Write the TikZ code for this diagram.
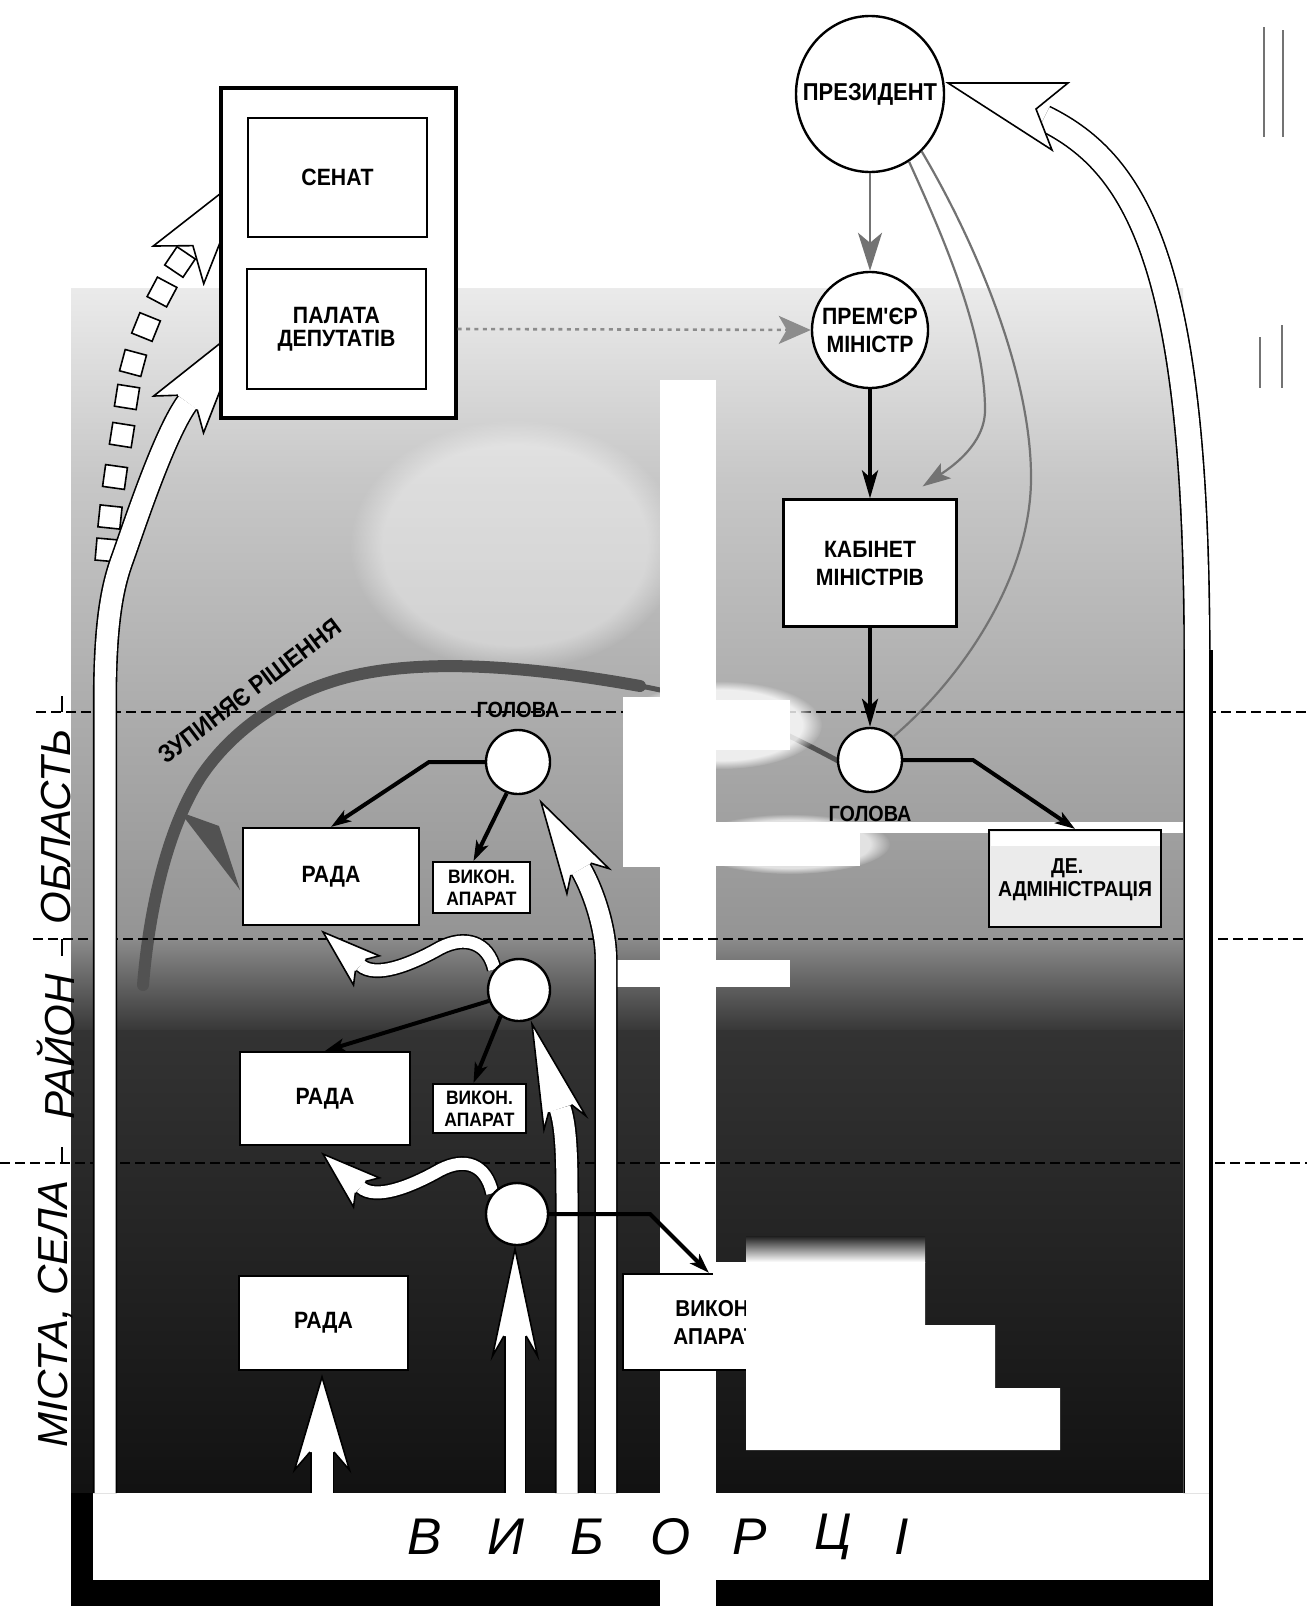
\documentclass[tikz,border=0pt]{standalone}
\usepackage{fontspec}
\setmainfont{Liberation Sans}
\newfontfamily\lbl[FakeStretch=0.9]{Liberation Sans}
\newfontfamily\lit{Liberation Sans}
\usetikzlibrary{arrows.meta,calc,shapes.geometric,fadings}
\pgfdeclarelayer{bg}
\pgfdeclarelayer{mid}
\pgfdeclarelayer{top}
\pgfsetlayers{bg,mid,main,top}
% white arrow head: tip, angle, length, half width, half shaft, notch
\newcommand\whead[6]{%
  \path[headst] ($#1+({#2+180}:{#3-#6})+({#2+90}:#5)$) -- ($#1+({#2+180}:#3)+({#2+90}:#4)$) -- #1 -- ($#1+({#2+180}:#3)+({#2-90}:#4)$) -- ($#1+({#2+180}:{#3-#6})+({#2-90}:#5)$);}
\begin{document}
\begin{tikzpicture}[x=0.5pt,y=-0.5pt,
  bfont/.style={font=\lbl\bfseries\fontsize{11.8}{14}\selectfont},
  box/.style={draw,line width=1.1pt,fill=white,inner sep=0pt,align=center,bfont},
  small/.style={font=\lbl\bfseries\fontsize{9.7}{10.8}\selectfont},
  ball/.style={circle,draw,line width=1.2pt,fill=white,inner sep=0pt},
  conn/.style={line width=2pt,-{Stealth[length=10pt,width=6.5pt,inset=2.5pt]}},
  bigconn/.style={line width=2pt,-{Stealth[length=14pt,width=8pt,inset=3.5pt]}},
  grayconn/.style={draw=black!55,line width=1.1pt},
  shaft/.style={double=white,double distance=#1,line width=0.8pt},
  headst/.style={fill=white,draw=black,line width=0.8pt,line join=miter},
  dline/.style={line width=0.7pt,dash pattern=on 5pt off 2.5pt},
  vlab/.style={font=\lit\itshape\fontsize{21}{24}\selectfont,rotate=90},
  arcst/.style={draw=black!68,line cap=round}
]
\useasboundingbox (0,0) rectangle (1307,1606);

% ---------------- nodes (main layer) ----------------
\node[box,line width=1.6pt,minimum width=117.5pt,minimum height=165pt] (parl) at (338.5,253) {};
\node[box,minimum width=89.5pt,minimum height=59.5pt] (sen) at (337.5,177.5) {СЕНАТ};
\node[box,minimum width=89.5pt,minimum height=60pt] (pal) at (336.5,329) {ПАЛАТА\\[-2.5pt]ДЕПУТАТІВ};
\node[ellipse,draw,line width=1.2pt,fill=white,minimum width=74pt,minimum height=78pt,inner sep=0pt] (pres) at (870,94) {};
\node[font=\lbl\bfseries\fontsize{12.2}{14}\selectfont] (lpres) at (pres.center) {ПРЕЗИДЕНТ};
\node[ball,minimum size=58pt,align=center,bfont] (prem) at (870,330) {ПРЕМ'ЄР\\МІНІСТР};
\node[box,minimum width=86.5pt,minimum height=63.5pt] (kab) at (870,563) {КАБІНЕТ\\МІНІСТРІВ};
\node[ball,minimum size=32pt] (golR) at (870,760) {};
\node[font=\lbl\bfseries\fontsize{11}{13}\selectfont] (lgolR) at (870,814) {ГОЛОВА};
\node[box,fill=black!8,minimum width=86pt,minimum height=48.5pt] (de) at (1075,878.5) {};
\fill[white] (990.5,831.5) rectangle (1159.5,846);
\node[font=\lbl\bfseries\fontsize{10.8}{13}\selectfont,anchor=west] (deA) at (1044,868) {ДЕ.};
\node[font=\lbl\bfseries\fontsize{10.8}{13}\selectfont] (deB) at (1075,891) {АДМІНІСТРАЦІЯ};

\node[ball,minimum size=32pt] (golO) at (518,762) {};
\node[font=\lbl\bfseries\fontsize{11}{13}\selectfont] (lgolO) at (518,710) {ГОЛОВА};
\node[box,minimum width=88pt,minimum height=48.5pt] (radaO) at (331,876.5) {РАДА};
\node[box,small,minimum width=48.5pt,minimum height=25.5pt] (vykO) at (481.5,887.5) {ВИКОН.\\АПАРАТ};
\node[ball,minimum size=31pt] (golD) at (519,990) {};
\node[box,minimum width=85pt,minimum height=46.5pt] (radaD) at (325,1098.5) {РАДА};
\node[box,small,minimum width=46.5pt,minimum height=24.5pt] (vykD) at (479.5,1108.5) {ВИКОН.\\АПАРАТ};
\node[ball,minimum size=31pt] (golC) at (517,1214) {};
\node[box,minimum width=84.5pt,minimum height=47pt] (radaC) at (323.5,1323) {РАДА};
\node[box,font=\lbl\bfseries\fontsize{11.5}{14}\selectfont,minimum width=92pt,minimum height=48pt] (vykC) at (715,1322) {ВИКОН.\\АПАРАТ};

% ---------------- background ----------------
\begin{pgfonlayer}{bg}
\fill[white] (0,0) rectangle (1307,1606);
\shade[top color=black!8,bottom color=black!22] (71,288) rectangle (1183,480);
\shade[top color=black!22,bottom color=black!32] (71,480) rectangle (1183,700);
\shade[top color=black!32,bottom color=black!42] (71,700) rectangle (1183,940);
\shade[top color=black!46,bottom color=black!78] (71,940) rectangle (1183,1030);
\shade[top color=black!80,bottom color=black!93] (71,1030) rectangle (1183,1493);
\fill[white,path fading=circle with fuzzy edge 20 percent,fill opacity=0.4] (515,545) ellipse [x radius=165,y radius=125];
% frame and voters band
\fill[black] (71,1493) rectangle (1213,1606);
\node[fill=white,inner sep=0pt,minimum width=558pt,minimum height=43.5pt] (vyb) at (651,1536.5) {};
% stopping arc
\draw[arcst,line width=2.5pt] (840,762) .. controls (790,735) and (720,700) .. (640,686);
\draw[arcst,line width=6pt] (640,686) .. controls (540,668) and (420,655) .. (337,680)
   .. controls (270,700) and (225,740) .. (200,778) .. controls (170,825) and (150,900) .. (143,985);
\fill[black!68] (180,812) -- (219,826) -- (240,890) -- cycle;
% level line 1
\draw[dline] (36,712) -- (1307,712);
% white cross and glows
\fill[white] (660,380) rectangle (716,1606);
\fill[white,path fading=circle with fuzzy edge 20 percent,fill opacity=0.8] (722,725) ellipse [x radius=100,y radius=44];
\fill[white] (628,700) rectangle (790,750);
\fill[white] (623,697) rectangle (660,867);
\fill[white] (623,822) rectangle (860,866);
\fill[white,path fading=circle with fuzzy edge 20 percent,fill opacity=0.7] (790,844) ellipse [x radius=100,y radius=30];
\fill[white] (716,822) rectangle (1183,833);
\fill[white] (617,960) rectangle (790,987);
% level lines 2 and 3
\draw[dline] (33,939) -- (1307,939);
\draw[dline] (0,1163) -- (1307,1163);
\end{pgfonlayer}

% ---------------- white arrows ----------------
\begin{pgfonlayer}{mid}
% dashed arrow to the senate
\foreach \x/\y/\r in {180/262/-34,162/292/-28,146/327/-22,133/363/-15,127/397/-9,122/435/-9,115/477/-8,110/517/-6,107/550/-5}
  \node[draw,fill=white,line width=0.8pt,minimum size=11pt,inner sep=0pt,rotate=\r] (sq\y) at (\x,\y) {};
\path[headst] (248,172) -- ($(248,172)+(126.8:116)+(36.8:31.5)$) -- ($(248,172)+(126.8:92)$) -- ($(248,172)+(126.8:116)+(-143.2:31.5)$) -- cycle;
% voters -> chamber of deputies
\draw[shaft=10.5pt] (105,1493) -- (105,700) .. controls (105,620) and (113,585) .. (122,560)
   .. controls (132,532.5) and (163.7,434.6) .. (187.5,402.4);
\whead{(247,322)}{-53.5}{115}{31}{12}{15}
% voters -> president
\draw[shaft=12pt] (1044,118) .. controls (1140,165) and (1197,270) .. (1197,660) -- (1197,1493);
\draw[line width=2pt] (1211,650) -- (1211,1606);
\path[headst] (948,83) -- (1068,83) -- (1036,109) -- (1052,150) -- cycle;
% voters -> local council
\draw[shaft=10.5pt] (322,1493) -- (322,1452);
\whead{(322,1377)}{-90}{93}{27.5}{12}{18}
% voters -> heads
\draw[shaft=9.5pt] (515,1493) -- (515,1336);
\whead{(515,1249)}{-90}{107}{22.5}{11.1}{20}
\draw[shaft=10.5pt] (567,1493) -- (567,1200) .. controls (567,1160) and (566.4,1127.4) .. (560.1,1108.4);
\whead{(532,1024)}{-108.4}{104}{22}{12}{15}
\draw[shaft=10pt] (606,1493) -- (606,960) .. controls (606,925) and (591,886.3) .. (580.8,869.1);
\whead{(541,802)}{-120.7}{92}{24.5}{11.6}{14}
% wavy arrows from heads to councils
\draw[shaft=6pt] (360.4,965.1) .. controls (375.4,978.3) and (410,965) .. (440,948) .. controls (465,935) and (488,942) .. (golD.140);
\whead{(323,932)}{-138.5}{58}{19.5}{7.6}{8}
\draw[shaft=6pt] (360.4,1187.1) .. controls (375.4,1200.3) and (410,1187) .. (440,1170) .. controls (465,1157) and (486,1164) .. (golC.140);
\whead{(323,1154)}{-138.5}{58}{19.5}{7.6}{8}
\end{pgfonlayer}

% ---------------- connectors ----------------
\draw[grayconn,-{Stealth[length=19pt,width=12pt,inset=5pt]}] (pres.south) -- (prem.north);
\draw[draw=black!45,line width=1.3pt,dash pattern=on 2pt off 2.2pt,-{Stealth[length=16pt,width=14pt,inset=4pt]}] (parl.east |- pal.east) -- (prem.west);
\draw[grayconn,-{Stealth[length=14pt,width=9pt,inset=3pt]}] (pres.300) .. controls (940,230) and (985,330) .. (985,410)
   .. controls (985,445) and (950,468) .. ($(kab.north east)+(-35,-12)$);
\draw[grayconn] (pres.312) .. controls (980,250) and (1032,380) .. (1031,480) .. controls (1030,580) and (960,680) .. (golR.45);
\draw[bigconn] (prem.south) -- (kab.north);
\draw[bigconn] (kab.south) -- (golR.north);
\draw[conn] (golR.east) -- (973,760) -- (de.north);
\draw[conn] (golO.west) -- (429,762) -- (radaO.north);
\draw[conn] (golO.250) -- ($(vykO.north)+(-8,0)$);
\draw[conn] (golD.200) -- (radaD.north);
\draw[conn] (golD.235) -- ($(vykD.north)+(-6,0)$);
\draw[conn] (golC.east) -- (650,1214) -- ($(vykC.north)+(-6,0)$);

% ---------------- texts ----------------
\node[font=\lbl\bfseries\fontsize{12.5}{14}\selectfont,rotate=37] (stop) at (250,691) {ЗУПИНЯЄ РІШЕННЯ};
\node[vlab] (lobl) at (56,827) {ОБЛАСТЬ};
\node[vlab] (lray) at (56,1047) {РАЙОН};
\node[vlab] (lmis) at (56,1314) {МІСТА, СЕЛА};
\foreach \l/\x in {В/425,И/506,Б/587,О/671,Р/750,Ц/833,І/902}
  \node[font=\lit\itshape\fontsize{25.8}{30}\selectfont] (v\x) at (\x,1537) {\l};
\draw[line width=0.7pt] (62,696) -- (62,712) (62,939) -- (62,956) (62,1147) -- (62,1163);
\draw[black!55,line width=0.6pt] (1264,27) -- (1264,137) (1283,30) -- (1283,137) (1260,337) -- (1260,388) (1282,325) -- (1282,388);

% ---------------- white cut-out over the city executive ----------------
\begin{pgfonlayer}{top}
\shade[top color=black!88,bottom color=white] (746,1236) rectangle (925,1262);
\fill[white] (713,1262) -- (925,1262) -- (925,1325) -- (995,1325) -- (995,1388) -- (1060,1388) -- (1060,1450) -- (746,1450) -- (746,1276) -- (713,1276) -- cycle;
\end{pgfonlayer}
\end{tikzpicture}
\end{document}
